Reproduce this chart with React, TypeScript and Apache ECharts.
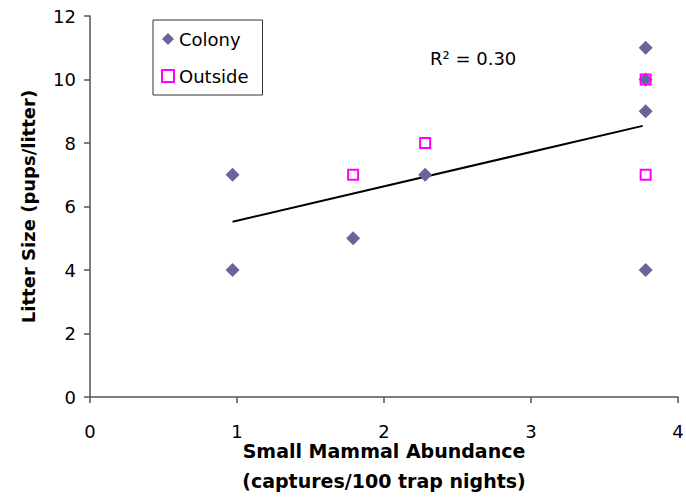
import React, { useEffect, useRef } from "react";
import * as echarts from "echarts";

const colonyPoints: [number, number][] = [
  [0.97, 7],
  [0.97, 4],
  [1.79, 5],
  [2.28, 7],
  [3.78, 11],
  [3.78, 10],
  [3.78, 9],
  [3.78, 4],
];

const outsidePoints: [number, number][] = [
  [1.79, 7],
  [2.28, 8],
  [3.78, 10],
  [3.78, 7],
];

const trendPoints: [number, number][] = [
  [0.97, 5.52],
  [3.76, 8.54],
];

const xTicks = { min: 0, max: 4, interval: 1 };
const yTicks = { min: 0, max: 12, interval: 2 };

const FONT = "'DejaVu Sans', 'Liberation Sans', Arial, sans-serif";

export default function App() {
  const ref = useRef<HTMLDivElement>(null);

  useEffect(() => {
    document.body.style.margin = "0";
    if (!ref.current) return;
    const chart = echarts.init(ref.current, undefined, { renderer: "svg" });
    const axisLine = { show: true, lineStyle: { color: "#555", width: 1.5 } };
    chart.setOption({
      animation: false,
      backgroundColor: "#fff",
      textStyle: { fontFamily: FONT },
      grid: { left: 90, right: 8, top: 16, bottom: 103, containLabel: false, outerBoundsMode: "none" },
      legend: {
        orient: "vertical",
        left: 153,
        top: 20,
        width: 109,
        padding: [10, 14, 10, 8],
        itemGap: 19,
        itemWidth: 12,
        itemHeight: 12,
        borderColor: "#333",
        borderWidth: 1,
        textStyle: { fontFamily: FONT, fontSize: 18, color: "#000" },
        data: [
          { name: "Colony", icon: "diamond" },
          { name: "Outside", icon: "rect" },
        ],
      },
      xAxis: {
        type: "value",
        min: xTicks.min,
        max: xTicks.max,
        interval: xTicks.interval,
        axisLine,
        axisTick: { show: true, length: 6, lineStyle: { color: "#555", width: 1.5 } },
        splitLine: { show: false },
        axisLabel: { fontFamily: FONT, fontSize: 18, color: "#000", margin: 25 },
        name: "Small Mammal Abundance\n(captures/100 trap nights)",
        nameLocation: "middle",
        nameGap: 39,
        nameMoveOverlap: false,
        nameTextStyle: { fontFamily: FONT, fontSize: 19, fontWeight: "bold", color: "#000", lineHeight: 30, verticalAlign: "top" },
      },
      yAxis: {
        type: "value",
        min: yTicks.min,
        max: yTicks.max,
        interval: yTicks.interval,
        axisLine,
        axisTick: { show: true, length: 6, lineStyle: { color: "#555", width: 1.5 } },
        splitLine: { show: false },
        axisLabel: { fontFamily: FONT, fontSize: 18, color: "#000", margin: 14 },
        name: "Litter Size (pups/litter)",
        nameLocation: "middle",
        nameGap: 53,
        nameMoveOverlap: false,
        nameTextStyle: { fontFamily: FONT, fontSize: 18, fontWeight: "bold", color: "#000" },
      },
      graphic: [
        {
          type: "text",
          left: 430,
          top: 49,
          style: { text: "R² = 0.30", fontFamily: FONT, fontSize: 18, fill: "#000" },
        },
      ],
      series: [
        {
          name: "Trend",
          type: "line",
          data: trendPoints,
          showSymbol: false,
          symbol: "none",
          lineStyle: { color: "#000", width: 2 },
          z: 2,
          silent: true,
        },
        {
          name: "Colony",
          type: "scatter",
          data: colonyPoints,
          symbol: "diamond",
          symbolSize: 14,
          itemStyle: { color: "#666699", opacity: 1 },
          z: 3,
        },
        {
          name: "Outside",
          type: "scatter",
          data: outsidePoints,
          symbol: "rect",
          symbolSize: 10,
          itemStyle: { color: "transparent", borderColor: "#FF00FF", borderWidth: 2, opacity: 1 },
          z: 4,
        },
      ],
    });
    return () => chart.dispose();
  }, []);

  return <div ref={ref} style={{ width: 686, height: 500 }} />;
}
